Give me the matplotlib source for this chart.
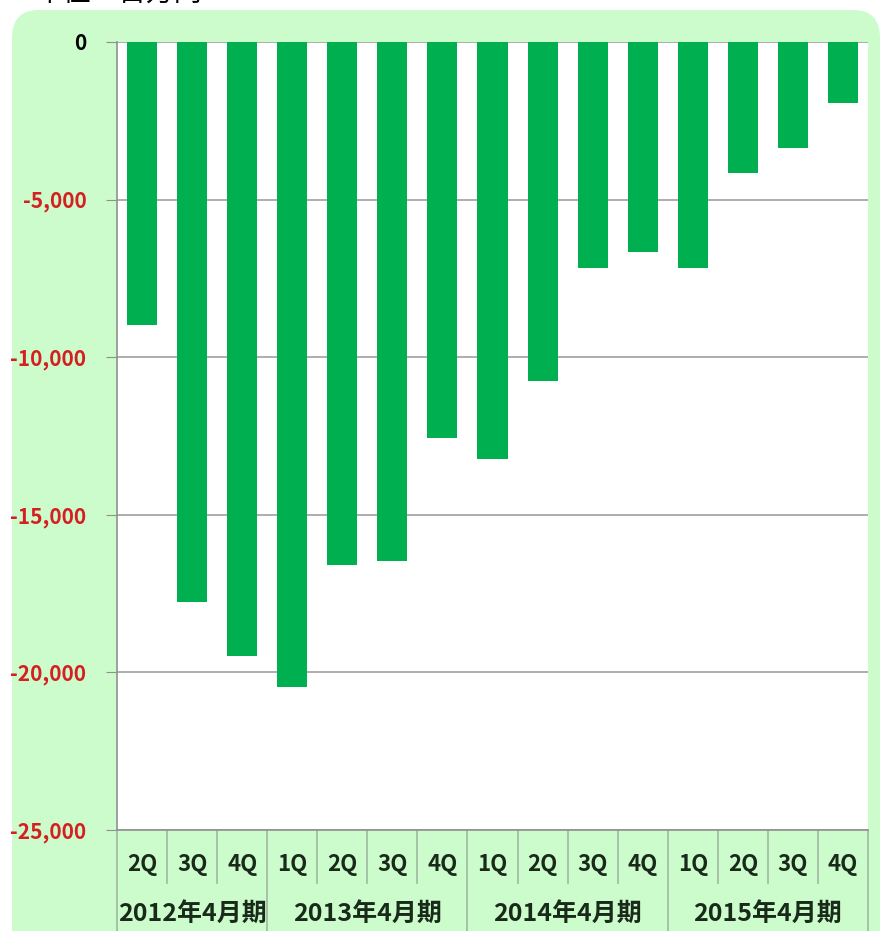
import matplotlib
matplotlib.use("Agg")
import matplotlib.pyplot as plt
from matplotlib.patches import FancyBboxPatch
from matplotlib.lines import Line2D

plt.rcParams['font.family'] = ['Noto Sans CJK JP', 'DejaVu Sans']

quarters = ["2Q", "3Q", "4Q", "1Q", "2Q", "3Q", "4Q", "1Q", "2Q", "3Q", "4Q", "1Q", "2Q", "3Q", "4Q"]
years = ["2012年4月期", "2013年4月期", "2014年4月期", "2015年4月期"]
year_counts = [3, 4, 4, 4]
values = [-8980, -17770, -19480, -20460, -16590, -16470, -12560, -13230,
          -10760, -7170, -6660, -7170, -4160, -3360, -1940]
yticks = [0, -5000, -10000, -15000, -20000, -25000]
ytick_labels = ["0", "-5,000", "-10,000", "-15,000", "-20,000", "-25,000"]

W, H = 888, 931
fig = plt.figure(figsize=(W / 100, H / 100), dpi=100)
fig.patch.set_facecolor("white")

bg = FancyBboxPatch((12 / W, -0.05), (880 - 12) / W, (H - 10) / H + 0.05,
                    boxstyle="round,pad=0,rounding_size=0.03",
                    transform=fig.transFigure, facecolor="#ccfccc", edgecolor="none", zorder=0)
fig.patches.append(bg)

fig.text(35 / W, 1 - 2 / H, "単位：百万円", fontsize=20, ha="left", va="baseline", color="black")

left, right, top, bottom = 117, 868, 42, 830
ax = fig.add_axes([left / W, 1 - bottom / H, (right - left) / W, (bottom - top) / H])
ax.set_zorder(2)
ax.set_facecolor("white")
x = list(range(len(values)))
ax.bar(x, values, width=0.6, color="#00b050", zorder=3)
ax.set_xlim(-0.5, len(values) - 0.5)
ax.set_ylim(-25000, 0)
ax.set_yticks(yticks)
ax.set_yticklabels(ytick_labels)
for t, lab in zip(ax.get_yticklabels(), ytick_labels):
    t.set_fontweight("bold")
    t.set_fontsize(15)
    t.set_color("black" if lab == "0" else "#d42020")
ax.yaxis.grid(True, color="#a0a0a0", linewidth=1.2, zorder=1)
ax.set_axisbelow(True)
ax.tick_params(axis="y", length=8, color="#909090", pad=14)
ax.set_xticks([])
for s in ["top", "right"]:
    ax.spines[s].set_visible(False)
ax.spines["left"].set_color("#909090")
ax.spines["bottom"].set_color("#909090")
ax.spines["left"].set_linewidth(1.2)
ax.spines["bottom"].set_linewidth(1.2)

trans = ax.get_xaxis_transform()
span = bottom - top
for i, q in enumerate(quarters):
    ax.text(i, -(864 - bottom) / span, q, transform=trans, ha="center", va="center",
            fontsize=16, fontweight="bold", color="#1a2a1a", clip_on=False)
q_sep_len = (883 - bottom) / span
y_sep_len = (H + 5 - bottom) / span
boundaries = []
pos = 0
for c in year_counts:
    boundaries.append(pos)
    pos += c
boundaries.append(pos)
for i in range(len(values) + 1):
    xb = i - 0.5
    length = y_sep_len if i in boundaries else q_sep_len
    ax.add_line(Line2D([xb, xb], [0, -length], transform=trans, color="#a0b8a0",
                       linewidth=1.2, clip_on=False))
pos = 0
for name, c in zip(years, year_counts):
    center = pos + c / 2 - 0.5
    ax.text(center, -(914 - bottom) / span, name, transform=trans, ha="center", va="center",
            fontsize=18, fontweight="bold", color="#1a2a1a", clip_on=False)
    pos += c

fig.savefig("out.png", dpi=100)
